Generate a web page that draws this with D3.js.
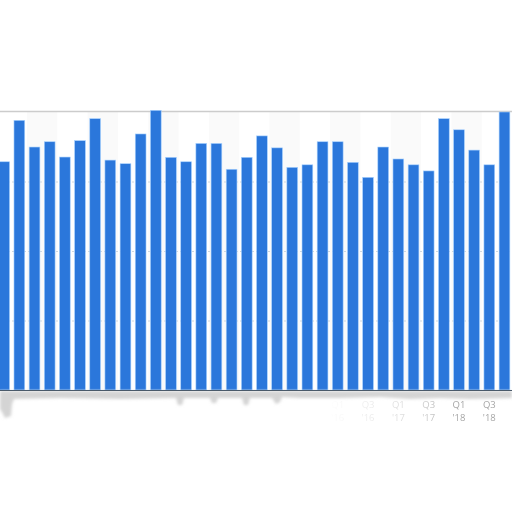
<!DOCTYPE html>
<html>
<head>
<meta charset="utf-8">
<script src="https://cdn.jsdelivr.net/npm/d3@7"></script>
<style>
  html, body { margin: 0; padding: 0; background: #fff; }
  svg { display: block; }
</style>
</head>
<body>
<div id="chart"></div>
<script>
// quarters, Q3 2010 .. Q4 2018
var quarters = ["Q3 '10","Q4 '10","Q1 '11","Q2 '11","Q3 '11","Q4 '11","Q1 '12","Q2 '12",
  "Q3 '12","Q4 '12","Q1 '13","Q2 '13","Q3 '13","Q4 '13","Q1 '14","Q2 '14",
  "Q3 '14","Q4 '14","Q1 '15","Q2 '15","Q3 '15","Q4 '15","Q1 '16","Q2 '16",
  "Q3 '16","Q4 '16","Q1 '17","Q2 '17","Q3 '17","Q4 '17","Q1 '18","Q2 '18",
  "Q3 '18","Q4 '18"];
var values = [82.1, 97.0, 87.4, 89.3, 83.8, 89.7, 97.6, 82.7,
  81.4, 92.1, 100.6, 83.7, 82.1, 88.7, 88.7, 79.4,
  83.7, 91.4, 87.1, 80.1, 81.0, 89.3, 89.3, 81.9,
  76.5, 87.4, 83.1, 81.0, 78.8, 97.6, 93.6, 86.3,
  81.0, 100.0];
var yTicks = [0, 25, 50, 75, 100];

var width = 512, height = 512;
var plotTop = 112, plotBottom = 390;

var svg = d3.select("#chart")
  .append("svg")
    .attr("width", width)
    .attr("height", height);

var defs = svg.append("defs");
defs.append("filter")
    .attr("id", "smudge")
    .attr("x", "-10%").attr("y", "-50%")
    .attr("width", "120%").attr("height", "200%")
  .append("feGaussianBlur")
    .attr("stdDeviation", 1.6);

var fade = defs.append("linearGradient")
    .attr("id", "labelFade")
    .attr("gradientUnits", "userSpaceOnUse")
    .attr("x1", 0).attr("x2", width).attr("y1", 0).attr("y2", 0);
[[0, 0], [0.64, 0], [0.72, 0.2], [0.78, 0.35], [0.84, 0.6], [0.88, 1], [1, 1]].forEach(function(s) {
  fade.append("stop").attr("offset", s[0]).attr("stop-color", "#fff").attr("stop-opacity", s[1]);
});
defs.append("mask")
    .attr("id", "labelMask")
  .append("rect")
    .attr("x", 0).attr("y", 0)
    .attr("width", width).attr("height", height)
    .attr("fill", "url(#labelFade)");

var step = 15.16;
var x = d3.scaleBand()
  .domain(quarters)
  .range([4.2 - step / 2, 4.2 - step / 2 + step * quarters.length])
  .paddingInner(0.29)
  .paddingOuter(0.145);

var y = d3.scaleLinear()
  .domain([0, 100])
  .range([plotBottom, plotTop]);

// faint alternating year bands
svg.append("g")
  .selectAll("rect")
  .data(quarters.filter(function(d, i) { return i % 4 === 2; }))
  .enter()
  .append("rect")
    .attr("x", function(d) { return x(d) - x.step() * x.paddingInner() / 2; })
    .attr("y", plotTop)
    .attr("width", x.step() * 2)
    .attr("height", plotBottom - plotTop)
    .attr("fill", "#fafafa");

// gridlines
svg.append("g")
    .call(d3.axisLeft(y).tickValues(yTicks.slice(1, 4)).tickSize(-width).tickFormat(""))
    .call(function(g) { g.select(".domain").remove(); })
    .call(function(g) {
      g.selectAll("line")
        .attr("stroke", "#cfd8e0")
        .attr("stroke-dasharray", "2,2");
    });

// top border
svg.append("line")
    .attr("x1", 0).attr("x2", width)
    .attr("y1", y(100) - 0.5).attr("y2", y(100) - 0.5)
    .attr("stroke", "#cccccc")
    .attr("stroke-width", 1.5);

// bars
svg.selectAll("mybar")
  .data(values)
  .enter()
  .append("rect")
    .attr("x", function(d, i) { return x(quarters[i]); })
    .attr("width", x.bandwidth())
    .attr("y", function(d) { return y(d); })
    .attr("height", function(d) { return y(0) - y(d); })
    .attr("fill", "#2b77db")
    .attr("stroke", "#a9d2ff")
    .attr("stroke-width", 0.6);

// smudge under the axis
svg.append("path")
    .attr("d", "M0,391 L512,391 L512,398 L470,399 L440,398 L410,399 L380,397 L340,398 " +
               "L300,398 L282,397 L280,402 L276,404 L272,398 L250,398 L248,405 L244,405 L242,398 " +
               "L218,398 L216,403 L212,403 L210,398 L184,398 L182,405 L178,405 L176,398 " +
               "L120,399 L60,398 L14,399 L12,404 L11,416 L5,418 L2,412 L0,409 Z")
    .attr("fill", "#d4d4d4")
    .attr("filter", "url(#smudge)");

// x axis baseline
svg.append("g")
    .attr("transform", "translate(0," + plotBottom + ")")
    .call(d3.axisBottom(x).tickSize(0).tickFormat(""))
    .call(function(g) {
      g.select(".domain").attr("stroke", "#4a5a6a").attr("stroke-width", 1.2);
    });

// quarter labels, every second bar, two lines
var labeled = quarters.filter(function(d, i) { return i % 2 === 0; });
function labelX(d) {
  return Math.max(8, x(d) + x.bandwidth() / 2);
}
var labels = svg.append("g")
    .attr("mask", "url(#labelMask)")
    .style("font-family", "'Open Sans', 'DejaVu Sans', sans-serif")
    .style("font-size", "9.5px")
    .attr("fill", "#a6a6a6")
    .attr("text-anchor", "middle");
labels.selectAll("text.q")
  .data(labeled)
  .enter()
  .append("text")
    .attr("class", "q")
    .attr("x", labelX)
    .attr("y", 407.5)
    .text(function(d) { return d.split(" ")[0]; });
labels.selectAll("text.yr")
  .data(labeled)
  .enter()
  .append("text")
    .attr("class", "yr")
    .attr("x", labelX)
    .attr("y", 420.5)
    .text(function(d) { return d.split(" ")[1]; });
</script>
</body>
</html>
